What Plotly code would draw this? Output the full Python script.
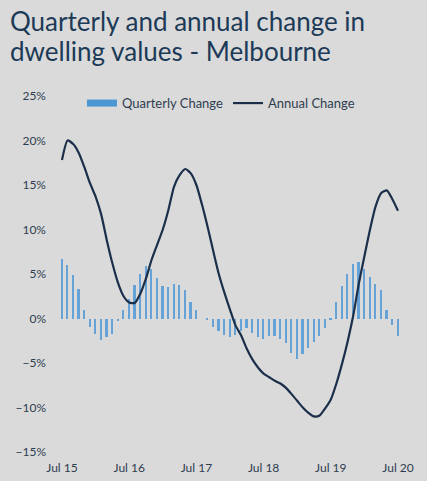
import plotly.graph_objects as go

months = list(range(61))  # Jul 2015 .. Jul 2020, monthly
tick_idx = [0, 12, 24, 36, 48, 60]
tick_labels = ["Jul 15", "Jul 16", "Jul 17", "Jul 18", "Jul 19", "Jul 20"]

quarterly = [6.7, 6.0, 4.9, 3.3, 0.9, -0.9, -1.7, -2.4, -2.1, -1.7, -0.3,
             0.9, 2.2, 3.8, 5.0, 5.9, 5.6, 4.6, 3.6, 3.5, 3.9, 3.8, 3.2, 1.9, 0.9,
             0.0, -0.2, -0.9, -1.4, -1.9, -2.1, -1.8, -1.4, -1.1, -1.6, -2.1, -2.3,
             -2.0, -2.0, -2.3, -2.8, -3.9, -4.5, -4.0, -3.3, -2.6, -2.0, -1.1, -0.1,
             1.9, 3.6, 5.0, 6.1, 6.3, 5.6, 4.7, 3.9, 3.2, 1.0, -0.7, -2.0]

annual = [17.8, 20.0, 19.6, 18.6, 17.0, 15.2, 13.7, 11.7, 8.8, 6.2, 4.0,
          2.5, 1.8, 1.75, 2.8, 4.5, 6.6, 8.3, 10.0, 12.2, 14.8, 16.1, 16.8, 16.3, 15.0,
          12.8, 10.3, 7.6, 5.0, 2.9, 1.0, -0.8, -1.9, -3.4, -4.6, -5.5, -6.2,
          -6.6, -7.0, -7.3, -7.8, -8.5, -9.25, -10.0, -10.6, -11.0, -10.9, -10.1, -9.1,
          -7.3, -5.1, -2.6, 0.3, 3.9, 7.0, 10.0, 12.6, 14.1, 14.4, 13.4, 12.1]

title_lines = ["Quarterly and annual change in", "dwelling values - Melbourne"]

text_col = "#2e3d4f"
font_family = "Lato, Open Sans, sans-serif"
bar_col = "#64a2d8"

fig = go.Figure()
fig.add_trace(go.Bar(
    x=months, y=quarterly, name="Quarterly Change", showlegend=False,
    marker=dict(color=bar_col, line=dict(width=0)),
    width=0.32,
))
# legend proxy to get a wide rectangular swatch like the original
fig.add_trace(go.Scatter(
    x=[None], y=[None], name="Quarterly Change", mode="lines",
    line=dict(color="#4a97d2", width=7),
))
fig.add_trace(go.Scatter(
    x=months, y=annual, name="Annual Change", mode="lines",
    line=dict(color="#1b2f4a", width=2.2, shape="spline", smoothing=0.6),
))

for i, t in enumerate(title_lines):
    fig.add_annotation(
        text=t, xref="paper", yref="paper", x=-0.118, y=1.0,
        xanchor="left", yanchor="bottom", showarrow=False,
        font=dict(family=font_family, size=26, color="#1c3a57"),
        yshift=57 - 30 * i,
    )

fig.update_layout(
    width=427, height=481,
    paper_bgcolor="#dadada", plot_bgcolor="#dadada",
    margin=dict(l=50, r=22, t=96, b=29, autoexpand=False),
    showlegend=True,
    legend=dict(
        orientation="h", x=0.09, xanchor="left", y=0.98, yanchor="middle",
        bgcolor="rgba(0,0,0,0)",
        font=dict(family=font_family, size=13, color=text_col),
        traceorder="normal",
    ),
    bargap=0,
    font=dict(family=font_family, size=12, color=text_col),
)
fig.update_xaxes(
    range=[-2.14, 61.25], tickvals=tick_idx, ticktext=tick_labels,
    showgrid=False, zeroline=False, showline=False, ticks="",
    ticklabelstandoff=7, automargin=False,
    tickfont=dict(size=12, color=text_col),
)
fig.update_yaxes(
    range=[-15, 25], dtick=5, ticksuffix="%",
    showgrid=False, zeroline=False, showline=False, ticks="",
    ticklabelstandoff=3, automargin=False,
    tickfont=dict(size=12, color=text_col),
)

fig.write_html(
    "out.html",
    config={"displayModeBar": False},
    post_script="document.body.style.margin='0';document.body.style.overflow='hidden';",
)
